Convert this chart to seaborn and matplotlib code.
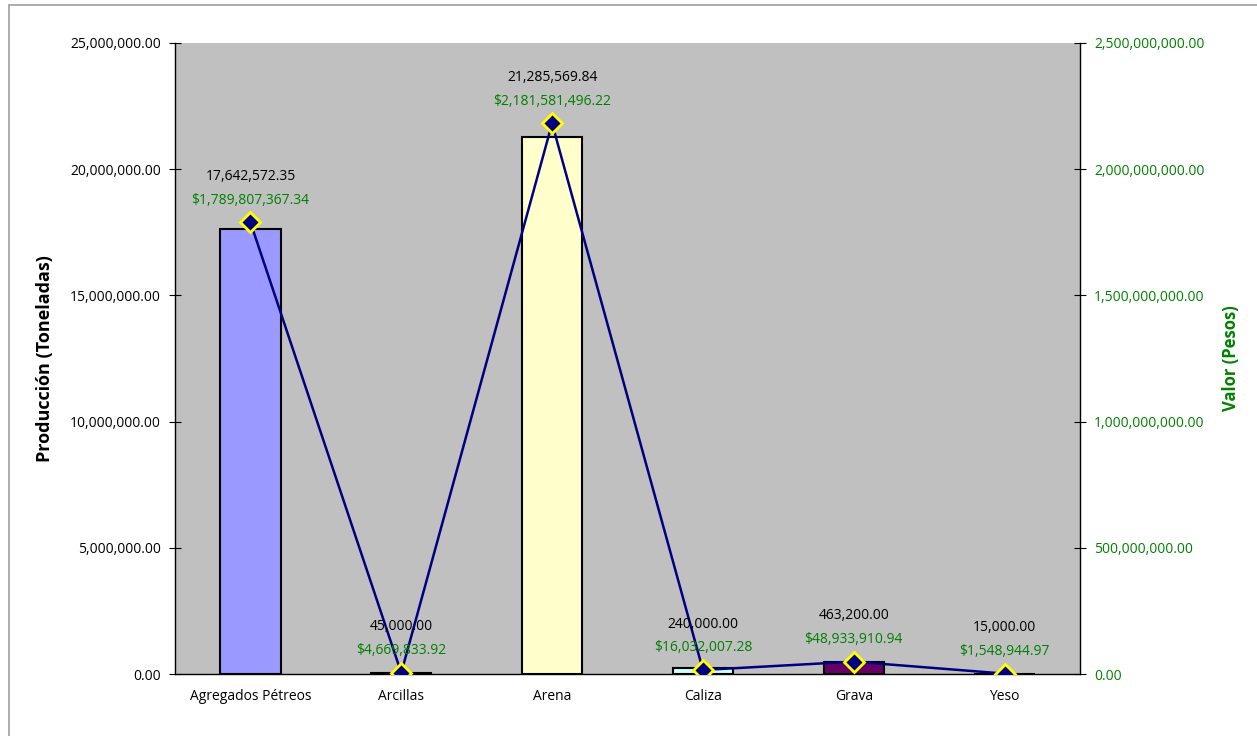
import matplotlib
matplotlib.use("Agg")
import matplotlib.pyplot as plt
from matplotlib.lines import Line2D
from matplotlib.ticker import FuncFormatter, MultipleLocator
import seaborn as sns
import pandas as pd

categories = ["Agregados Pétreos", "Arcillas", "Arena", "Caliza", "Grava", "Yeso"]
produccion = [17642572.35, 45000.00, 21285569.84, 240000.00, 463200.00, 15000.00]
valor = [1789807367.34, 4669833.92, 2181581496.22, 16032007.28, 48933910.94, 1548944.97]
bar_colors = ["#9999FF", "#993366", "#FFFFCC", "#CCFFFF", "#660066", "#FF8080"]

df = pd.DataFrame({"cat": categories, "prod": produccion, "val": valor})

sns.set_style("white", {"text.color": "black", "axes.labelcolor": "black",
                        "xtick.color": "black", "ytick.color": "black"})
plt.rcParams["font.family"] = ["Open Sans", "DejaVu Sans"]

W, H = 1257, 736
fig = plt.figure(figsize=(W / 100, H / 100), dpi=100)
fig.subplots_adjust(left=175 / W, right=1080 / W, top=1 - 43 / H, bottom=1 - 674 / H)
ax = fig.add_subplot(111)
ax.set_facecolor("#C0C0C0")

green = "#008000"
fs = 10

sns.barplot(data=df, x="cat", y="prod", hue="cat", palette=bar_colors, order=categories,
            hue_order=categories, width=0.4, edgecolor="black", linewidth=1.5,
            saturation=1, legend=False, ax=ax, zorder=2)
ax.set_ylim(0, 25_000_000)
ax.yaxis.set_major_locator(MultipleLocator(5_000_000))
ax.yaxis.set_major_formatter(FuncFormatter(lambda v, p: f"{v:,.2f}"))
ax.set_xlabel("")
ax.set_ylabel("Producción (Toneladas)", fontsize=13, fontweight="bold", labelpad=12,
              color="black")
ax.set_xticks(range(len(categories)))
ax.set_xticklabels(categories)
ax.set_xticks([i + 0.5 for i in range(-1, len(categories))], minor=True)
ax.tick_params(axis="x", which="major", length=0, labelsize=fs, pad=11, labelcolor="black")
ax.tick_params(axis="x", which="minor", length=8, direction="inout", width=0.8)
ax.tick_params(axis="y", length=8, direction="inout", width=0.8, labelsize=fs, pad=6,
               labelcolor="black")
ax.set_xlim(-0.5, len(categories) - 0.5)
for s in ["left", "bottom"]:
    ax.spines[s].set_color("black")
    ax.spines[s].set_linewidth(1)
ax.spines["top"].set_visible(False)
ax.spines["right"].set_visible(False)

ax2 = ax.twinx()
sns.pointplot(data=df, x="cat", y="val", order=categories, color="#000080",
              markers="D", linestyles="-", ax=ax2, markersize=10,
              markeredgecolor="#FFFF00", markeredgewidth=2, linewidth=1.8,
              markerfacecolor="#000080")
ax2.set_ylim(0, 2_500_000_000)
ax2.set_xlim(-0.5, len(categories) - 0.5)
ax2.yaxis.set_major_locator(MultipleLocator(500_000_000))
ax2.yaxis.set_major_formatter(FuncFormatter(lambda v, p: f"{v:,.2f}"))
ax2.tick_params(axis="y", length=8, direction="inout", width=0.8, labelsize=fs,
                labelcolor=green, pad=6)
ax2.set_ylabel("Valor (Pesos)", fontsize=12, fontweight="bold", color=green, labelpad=13)
ax2.set_xlabel("")
for s in ["top", "left", "bottom"]:
    ax2.spines[s].set_visible(False)
ax2.spines["right"].set_color("black")
ax2.spines["right"].set_linewidth(1)

for i, (p, v) in enumerate(zip(produccion, valor)):
    ax2.annotate(f"${v:,.2f}", (i, v), xytext=(0, 16), textcoords="offset points",
                 ha="center", va="center", color=green, fontsize=fs, zorder=5)
    ax2.annotate(f"{p:,.2f}", (i, v), xytext=(0, 33), textcoords="offset points",
                 ha="center", va="center", color="black", fontsize=fs, zorder=5)

fig.add_artist(Line2D([9 / W, 9 / W], [0, 1 - 5 / H], color="#A0A0A0", lw=1.2,
                      transform=fig.transFigure))
fig.add_artist(Line2D([9 / W, 1], [1 - 5 / H, 1 - 5 / H], color="#A0A0A0", lw=1.2,
                      transform=fig.transFigure))

fig.savefig("out.png", dpi=100)
